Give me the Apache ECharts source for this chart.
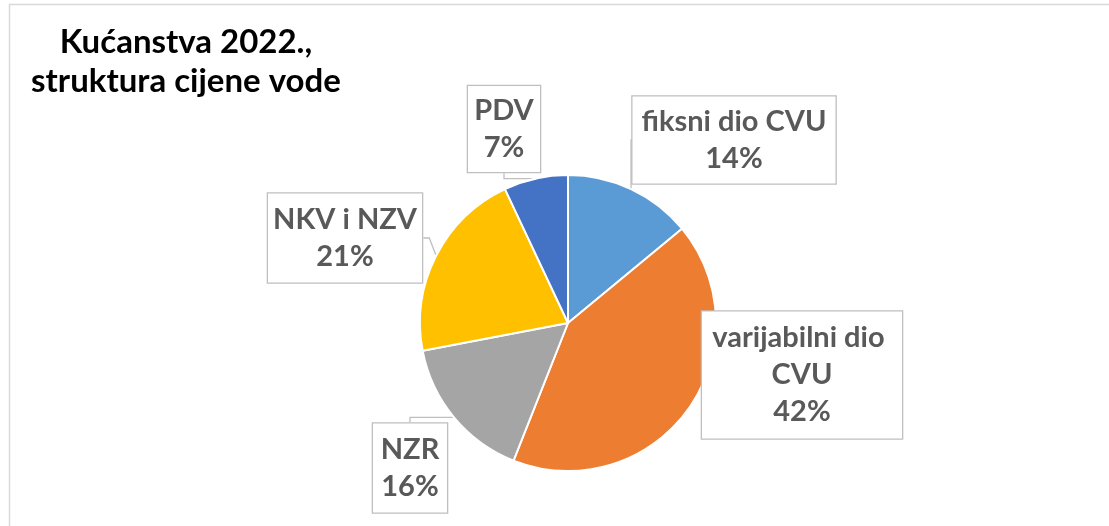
<!DOCTYPE html>
<html>
<head>
<meta charset="utf-8">
<script src="https://cdn.jsdelivr.net/npm/echarts@6/dist/echarts.min.js"></script>
<style>
  html, body { margin: 0; padding: 0; background: #fff; }
  #main { width: 1109px; height: 526px; }
</style>
</head>
<body>
<div id="main"></div>
<script>
// podaci
var names = ['fiksni dio CVU', 'varijabilni dio CVU', 'NZR', 'NKV i NZV', 'PDV'];
var values = [14, 42, 16, 21, 7];
var colors = ['#5B9BD5', '#ED7D31', '#A5A5A5', '#FFC000', '#4472C4'];

// pozicije okvira oznaka (centar x, centar y, širina, visina)
var boxes = [
  [734, 140, 203, 87],
  [802, 375, 200, 127],
  [410, 468, 74, 89],
  [345, 238, 154, 89],
  [504, 129, 72, 86]
];
var lineH = 37;

var chart = echarts.init(document.getElementById('main'));

var pieData = names.map(function (n, i) {
  var b = boxes[i];
  var lines = i === 1 ? 3 : 2;
  var pv = (b[3] - lines * lineH) / 2;
  return {
    name: n,
    value: values[i],
    itemStyle: { color: colors[i] },
    label: { width: b[2], padding: [pv + 2, 0, pv - 2, 0] }
  };
});

var option = {
  backgroundColor: '#fff',
  animation: false,
  title: {
    text: 'Kućanstva 2022.,\nstruktura cijene vode',
    left: 181,
    top: 18,
    textAlign: 'center',
    textStyle: {
      fontFamily: 'Lato',
      fontSize: 33,
      fontWeight: 'bold',
      color: '#000',
      lineHeight: 39
    }
  },
  graphic: [{
    type: 'rect',
    shape: { x: 9.5, y: 4.5, width: 1200, height: 600 },
    style: { fill: null, stroke: '#d9d9d9', lineWidth: 1.5 },
    silent: true
  }],
  series: [{
    type: 'pie',
    center: [568, 323],
    radius: 148,
    startAngle: 90,
    clockwise: true,
    itemStyle: { borderColor: '#fff', borderWidth: 2 },
    label: {
      show: true,
      position: 'outside',
      formatter: function (p) { return p.name + '\n' + p.percent + '%'; },
      fontFamily: 'Lato',
      fontSize: 29,
      fontWeight: 'bold',
      color: '#595959',
      lineHeight: lineH,
      align: 'center',
      overflow: 'break',
      backgroundColor: '#fff',
      borderColor: '#bfbfbf',
      borderWidth: 1.3
    },
    labelLine: {
      show: true,
      length: 6,
      length2: 6,
      lineStyle: { color: '#bfbfbf', width: 1.3 }
    },
    labelLayout: function (params) {
      var b = boxes[params.dataIndex];
      return { x: b[0], y: b[1], align: 'center', verticalAlign: 'middle' };
    },
    emphasis: { disabled: true },
    data: pieData
  }]
};

chart.setOption(option);
</script>
</body>
</html>
